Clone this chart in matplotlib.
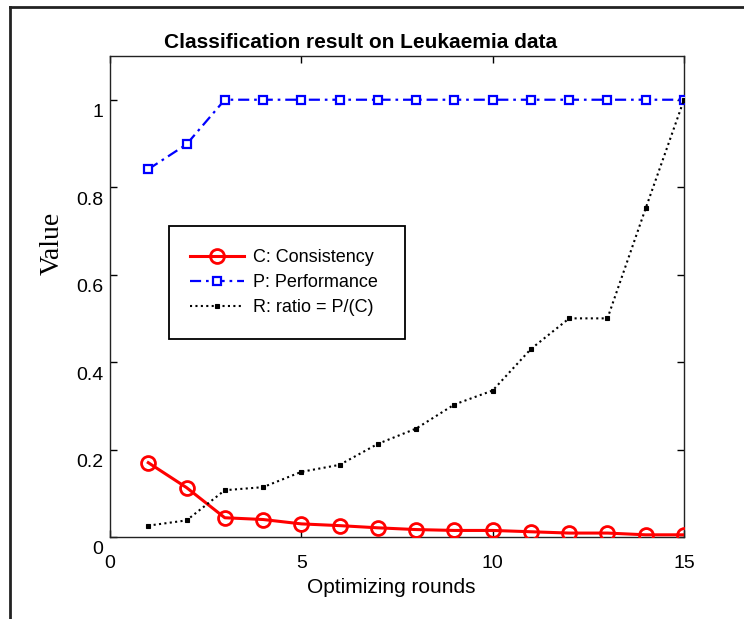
import matplotlib
matplotlib.use('Agg')
import matplotlib.pyplot as plt
import matplotlib.transforms as mtransforms
from matplotlib.lines import Line2D
from matplotlib.patches import Rectangle

# ---- data ----
rounds = list(range(1, 16))
consistency = [0.170, 0.113, 0.044, 0.040, 0.030, 0.026, 0.021, 0.017,
               0.015, 0.015, 0.012, 0.009, 0.009, 0.005, 0.005]
performance = [0.841, 0.898, 1.0, 1.0, 1.0, 1.0, 1.0, 1.0,
               1.0, 1.0, 1.0, 1.0, 1.0, 1.0, 1.0]
ratio = [0.026, 0.038, 0.107, 0.114, 0.149, 0.165, 0.213, 0.248,
         0.303, 0.335, 0.430, 0.500, 0.500, 0.752, 1.0]
series_labels = ['C: Consistency', 'P: Performance', 'R: ratio = P/(C)']
x_ticks = [0, 5, 10, 15]
x_tick_labels = ['0', '5', '10', '15']
y_ticks = [0, 0.2, 0.4, 0.6, 0.8, 1.0]
y_tick_labels = ['0', '0.2', '0.4', '0.6', '0.8', '1']
title = 'Classification result on Leukaemia data'
x_label = 'Optimizing rounds'
y_label = 'Value'

plt.rcParams['font.family'] = ['Liberation Sans', 'DejaVu Sans']

W, H = 744, 619
fig = plt.figure(figsize=(W / 100, H / 100), dpi=100)
fig.patch.set_facecolor('white')

def fx(px):
    return px / W

def fy(py):
    return 1 - py / H

ax_l, ax_r, ax_t, ax_b = 110, 684, 56, 537
ax = fig.add_axes([fx(ax_l), fy(ax_b), (ax_r - ax_l) / W, (ax_b - ax_t) / H])

ax.plot(rounds, consistency, color='#ff0000', lw=2.2, marker='o', ms=10,
        mfc='none', mec='#ff0000', mew=2.0, label=series_labels[0], zorder=3)
ax.plot(rounds, performance, color='#0000ff', lw=1.6, marker='s', ms=5.5,
        mfc='white', mec='#0000ff', mew=1.6, label=series_labels[1],
        dashes=(5, 2.2, 1.2, 2.2), zorder=3)
ax.plot(rounds, ratio, color='black', lw=1.5, marker='s', ms=3.2,
        mfc='black', mec='black', mew=0.8, linestyle=(0, (1, 1.6)),
        label=series_labels[2], zorder=4)

ax.set_xlim(0, 15)
ax.set_ylim(0, 1.1)
ax.set_xticks(x_ticks, x_tick_labels)
ax.set_yticks(y_ticks, y_tick_labels)
ax.tick_params(direction='in', length=5, width=1, top=True, right=True,
               labelsize=14, colors='black')
ax.tick_params(axis='x', pad=13)
ax.tick_params(axis='y', pad=5)
off = mtransforms.ScaledTranslation(0, -0.11, fig.dpi_scale_trans)
for lab in ax.get_yticklabels():
    lab.set_transform(lab.get_transform() + off)
for s in ax.spines.values():
    s.set_linewidth(1.0)
    s.set_color('#222222')

ax.set_xlabel(x_label, fontsize=15, va='center', ha='center')
ax.xaxis.set_label_coords(0.49, -0.104)
ax.set_ylabel(y_label, fontsize=20, family=['Liberation Serif', 'DejaVu Serif'],
              va='center', ha='center')
ax.yaxis.set_label_coords((52 - ax_l) / (ax_r - ax_l), (ax_b - 243.5) / (ax_b - ax_t))

fig.text(fx(361), fy(42), title, ha='center', va='center', fontsize=15,
         fontweight='bold')

# legend frame (larger than its content, as in the reference)
ax.add_patch(Rectangle((fx(169), fy(339)), (405 - 169) / W, (339 - 226) / H,
                       transform=fig.transFigure, facecolor='white',
                       edgecolor='black', lw=1.3, zorder=5, clip_on=False))
leg = ax.legend(loc='upper left', bbox_to_anchor=(fx(190), fy(249)),
                bbox_transform=fig.transFigure, frameon=False, borderpad=0,
                borderaxespad=0, handlelength=3.0, handletextpad=0.5,
                labelspacing=0.45, fontsize=13)
leg.set_zorder(6)

# outer figure frame
fig.add_artist(Line2D([fx(10), fx(10)], [fy(7), -0.02], color='#222222', lw=2))
fig.add_artist(Line2D([fx(10), 1.02], [fy(7), fy(7)], color='#222222', lw=2))

fig.savefig('out.png', dpi=100)
